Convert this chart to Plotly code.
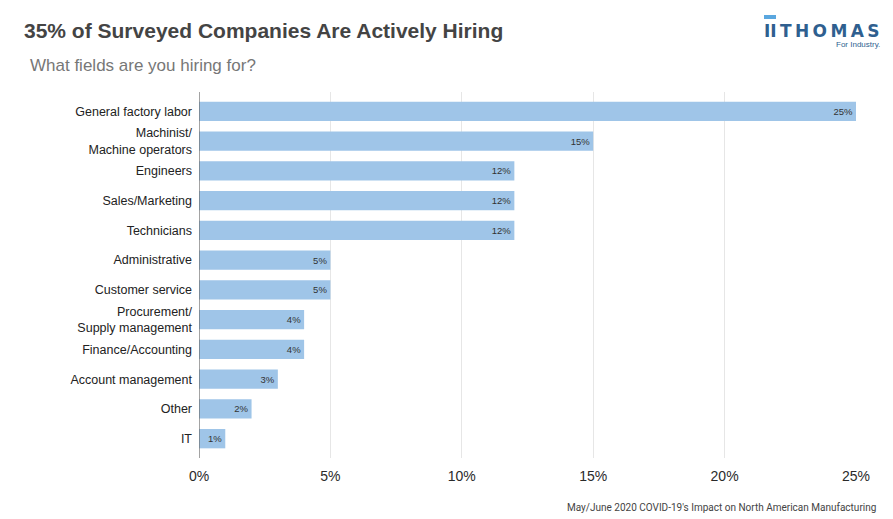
import plotly.graph_objects as go

categories = ["General factory labor", "Machinist/<br>Machine operators", "Engineers",
              "Sales/Marketing", "Technicians", "Administrative", "Customer service",
              "Procurement/<br>Supply management", "Finance/Accounting",
              "Account management", "Other", "IT"]
values = [25, 15, 12, 12, 12, 5, 5, 4, 4, 3, 2, 1]
tick_vals = [0, 5, 10, 15, 20, 25]
tick_text = ["0%", "5%", "10%", "15%", "20%", "25%"]

OFF = 8  # page body margin
W, H = 893 - OFF, 519 - OFF
L, R, T, B = 199 - OFF, 37, 92 - OFF, 61
PW, PH = W - L - R, H - T - B

def px_x(p):
    return (p - OFF - L) / PW

def px_y(p):
    return 1 - (p - OFF - T) / PH

fig = go.Figure()
fig.add_trace(go.Bar(
    x=values, y=categories, orientation="h",
    marker=dict(color="#9fc5e8", line=dict(width=0)),
    width=0.65,
    text=[f"{v}%" for v in values], textposition="inside",
    insidetextanchor="end",
    textfont=dict(size=9.5, color="#333333", family="Arial"),
    cliponaxis=False,
))

fig.update_layout(
    width=W, height=H,
    margin=dict(l=L, r=R, t=T, b=B),
    paper_bgcolor="white", plot_bgcolor="white",
    showlegend=False,
    font=dict(family="Arial", color="#222222"),
    xaxis=dict(range=[0, 25], tickvals=tick_vals, ticktext=tick_text,
               showgrid=True, gridcolor="#e6e6e6", gridwidth=1,
               zeroline=False, showline=False,
               tickfont=dict(size=14, color="#2a2a2a", family="Arial"),
               ticks="", ticklabelstandoff=8, fixedrange=True),
    yaxis=dict(autorange=False, range=[11.65, -0.65], type="category",
               showgrid=False, zeroline=False, showline=False,
               tickfont=dict(size=12.5, color="#222222", family="Arial"),
               ticks="", ticklabelstandoff=6),
    bargap=0.35,
)

fig.add_shape(type="line", xref="x", yref="paper", x0=0, x1=0, y0=0, y1=1,
              line=dict(color="#666666", width=1.2))

ann = []
ann.append(dict(text="<b>35% of Surveyed Companies Are Actively Hiring</b>",
                xref="paper", yref="paper", x=px_x(22), y=px_y(31),
                xanchor="left", yanchor="middle", showarrow=False,
                font=dict(size=21, color="#444444", family="Arial")))
ann.append(dict(text="What fields are you hiring for?",
                xref="paper", yref="paper", x=px_x(28), y=px_y(66),
                xanchor="left", yanchor="middle", showarrow=False,
                font=dict(size=17, color="#777777", family="Arial")))
ann.append(dict(text="May/June 2020 COVID-19's Impact on North American Manufacturing",
                xref="paper", yref="paper", x=px_x(878), y=px_y(507),
                xanchor="right", yanchor="middle", showarrow=False,
                font=dict(size=10, color="#444444", family="Roboto")))
ann.append(dict(text="<b>II</b>",
                xref="paper", yref="paper", x=px_x(762), y=px_y(31),
                xanchor="left", yanchor="middle", showarrow=False,
                font=dict(size=17, color="#2f5f8f", family="DejaVu Sans")))
ann.append(dict(text="<b>T\u2009H\u2009O\u2009M\u2009A\u2009S</b>",
                xref="paper", yref="paper", x=px_x(882), y=px_y(31),
                xanchor="right", yanchor="middle", showarrow=False,
                font=dict(size=17, color="#2f5f8f", family="DejaVu Sans")))
ann.append(dict(text="For Industry.",
                xref="paper", yref="paper", x=px_x(882), y=px_y(45),
                xanchor="right", yanchor="middle", showarrow=False,
                font=dict(size=8, color="#2f5f8f", family="Arial")))
fig.update_layout(annotations=ann)

fig.add_shape(type="rect", xref="paper", yref="paper",
              x0=px_x(764), x1=px_x(776), y0=px_y(19), y1=px_y(15),
              fillcolor="#5aa7df", line=dict(width=0))

fig.write_html("out.html")
